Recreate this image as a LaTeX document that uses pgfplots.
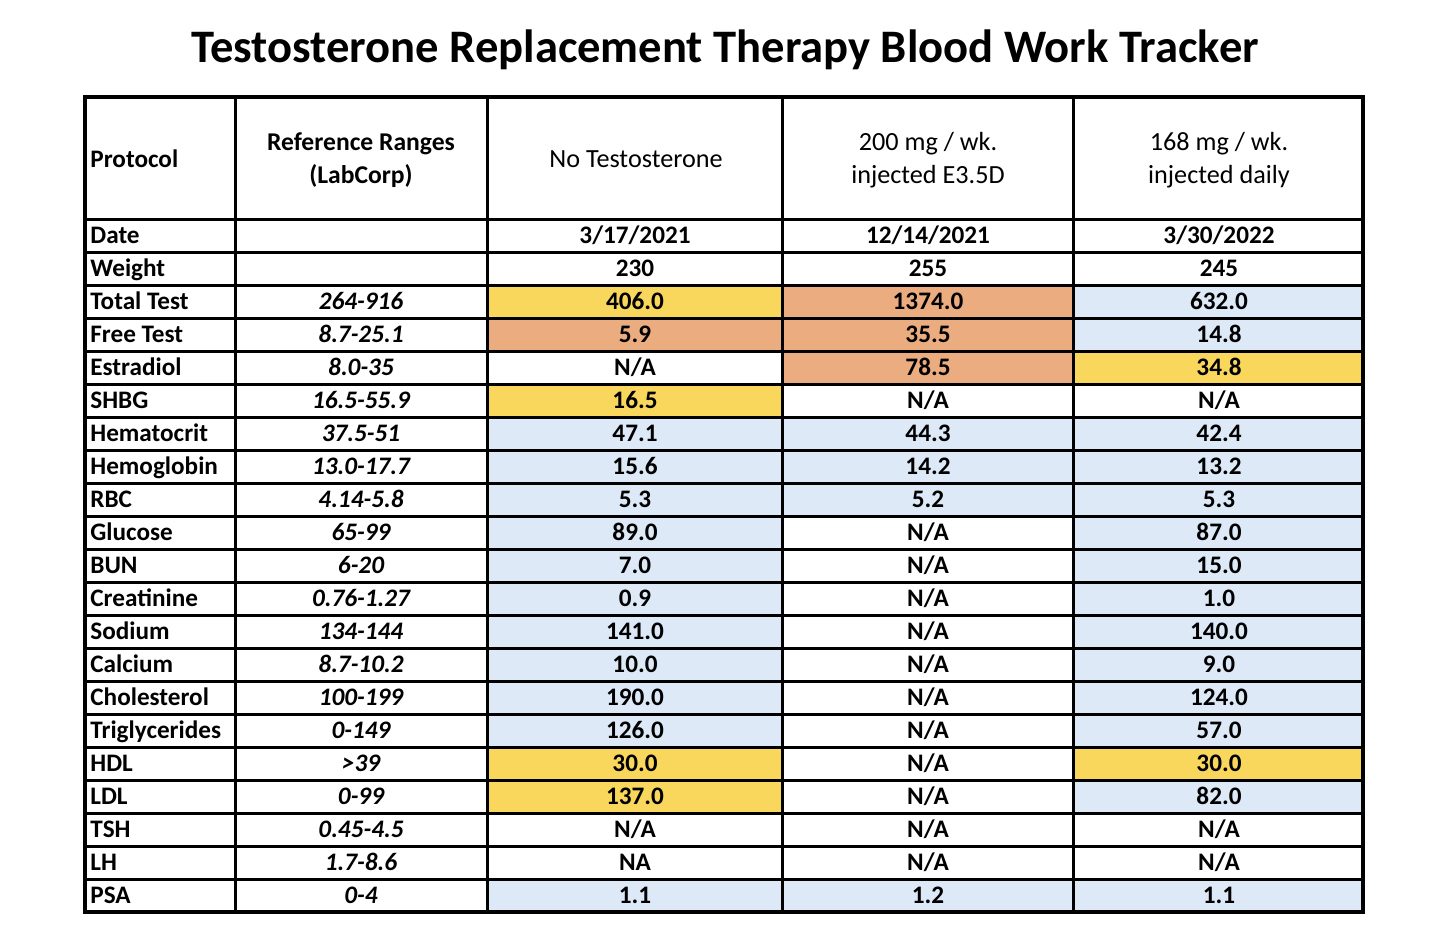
\documentclass[border=0pt]{standalone}
\usepackage{pgfplots}
\pgfplotsset{compat=1.18}
\usepackage{pgfplotstable}
\usepackage{fontspec}
\setmainfont{Carlito}
\definecolor{cyel}{HTML}{F9D65C}
\definecolor{corg}{HTML}{EBAC7F}
\definecolor{cblu}{HTML}{DDE9F7}

\pgfplotstableread[col sep=comma]{
r,name
0,Date
1,Weight
2,Total Test
3,Free Test
4,Estradiol
5,SHBG
6,Hematocrit
7,Hemoglobin
8,RBC
9,Glucose
10,BUN
11,Creatinine
12,Sodium
13,Calcium
14,Cholesterol
15,Triglycerides
16,HDL
17,LDL
18,TSH
19,LH
20,PSA
}\names

\pgfplotstableread[col sep=comma]{
r,range
2,264-916
3,8.7-25.1
4,8.0-35
5,16.5-55.9
6,37.5-51
7,13.0-17.7
8,4.14-5.8
9,65-99
10,6-20
11,0.76-1.27
12,134-144
13,8.7-10.2
14,100-199
15,0-149
16,>39
17,0-99
18,0.45-4.5
19,1.7-8.6
20,0-4
}\ranges

\pgfplotstableread[col sep=comma]{
r,a,b,c
0,3/17/2021,12/14/2021,3/30/2022
1,230,255,245
2,406.0,1374.0,632.0
3,5.9,35.5,14.8
4,N/A,78.5,34.8
5,16.5,N/A,N/A
6,47.1,44.3,42.4
7,15.6,14.2,13.2
8,5.3,5.2,5.3
9,89.0,N/A,87.0
10,7.0,N/A,15.0
11,0.9,N/A,1.0
12,141.0,N/A,140.0
13,10.0,N/A,9.0
14,190.0,N/A,124.0
15,126.0,N/A,57.0
16,30.0,N/A,30.0
17,137.0,N/A,82.0
18,N/A,N/A,N/A
19,NA,N/A,N/A
20,1.1,1.2,1.1
}\vals

\begin{document}
\begin{tikzpicture}
\begin{axis}[
  scale only axis, width=719pt, height=474.5pt,
  xmin=0, xmax=1438, ymin=0, ymax=949, y dir=reverse,
  hide axis, clip=false,
  txt/.style={draw=none, mark=none, nodes near coords, point meta=explicit symbolic,
    every node near coord/.append style={anchor=base, inner sep=0pt, text=black, font=\fontsize{12.6}{14}\selectfont\bfseries}},
]
% cell fills
\addplot[fill=cblu, draw=none] coordinates {(487,417)(1363,417)(1363,516)(487,516)} -- cycle;
\addplot[fill=cblu, draw=none] coordinates {(487,879)(1363,879)(1363,912)(487,912)} -- cycle;
\addplot[fill=cblu, draw=none] coordinates {(487,516)(782,516)(782,747)(487,747)} -- cycle;
\addplot[fill=cblu, draw=none] coordinates {(1073,516)(1363,516)(1363,747)(1073,747)} -- cycle;
\addplot[fill=cblu, draw=none] coordinates {(1073,285)(1363,285)(1363,351)(1073,351)} -- cycle;
\addplot[fill=cblu, draw=none] coordinates {(1073,780)(1363,780)(1363,813)(1073,813)} -- cycle;
\addplot[fill=cyel, draw=none] coordinates {(487,285)(782,285)(782,318)(487,318)} -- cycle;
\addplot[fill=cyel, draw=none] coordinates {(487,384)(782,384)(782,417)(487,417)} -- cycle;
\addplot[fill=cyel, draw=none] coordinates {(1073,351)(1363,351)(1363,384)(1073,384)} -- cycle;
\addplot[fill=cyel, draw=none] coordinates {(487,747)(782,747)(782,813)(487,813)} -- cycle;
\addplot[fill=cyel, draw=none] coordinates {(1073,747)(1363,747)(1363,780)(1073,780)} -- cycle;
\addplot[fill=corg, draw=none] coordinates {(487,318)(782,318)(782,351)(487,351)} -- cycle;
\addplot[fill=corg, draw=none] coordinates {(782,285)(1073,285)(1073,384)(782,384)} -- cycle;

% grid lines
\pgfplotsinvokeforeach{219,252,285,318,351,384,417,450,483,516,549,582,615,648,681,714,747,780,813,846,879}{
  \draw[line width=1.5pt] (axis cs:85,#1) -- (axis cs:1363,#1);
}
\pgfplotsinvokeforeach{235,487,782,1073}{
  \draw[line width=1.5pt] (axis cs:#1,97) -- (axis cs:#1,912);
}
\draw[line width=2pt] (axis cs:85,97) rectangle (axis cs:1363,912);

% texts
\addplot[txt, every node near coord/.append style={anchor=base west}] table[x expr=90, y expr=243.5+33*\thisrow{r}, meta=name] {\names};
\addplot[txt, every node near coord/.append style={font=\fontsize{12.6}{14}\selectfont\bfseries\itshape}] table[x expr=361, y expr=243.5+33*\thisrow{r}, meta=range] {\ranges};
\addplot[txt] table[x expr=635, y expr=243.5+33*\thisrow{r}, meta=a] {\vals};
\addplot[txt] table[x expr=928, y expr=243.5+33*\thisrow{r}, meta=b] {\vals};
\addplot[txt] table[x expr=1219, y expr=243.5+33*\thisrow{r}, meta=c] {\vals};

% header
\node[anchor=base west, inner sep=0pt, font=\fontsize{12.6}{14}\selectfont\bfseries] at (axis cs:90,167) {Protocol};
\node[anchor=base, inner sep=0pt, font=\fontsize{12.8}{14}\selectfont\bfseries] at (axis cs:361,150) {Reference Ranges};
\node[anchor=base, inner sep=0pt, font=\fontsize{12.8}{14}\selectfont\bfseries] at (axis cs:361,183) {(LabCorp)};
\node[anchor=base, inner sep=0pt, font=\fontsize{13.1}{14}\selectfont] at (axis cs:636,167) {No Testosterone};
\node[anchor=base, inner sep=0pt, font=\fontsize{13.1}{14}\selectfont] at (axis cs:928,150) {200 mg / wk.};
\node[anchor=base, inner sep=0pt, font=\fontsize{13.1}{14}\selectfont] at (axis cs:928,183) {injected E3.5D};
\node[anchor=base, inner sep=0pt, font=\fontsize{13.1}{14}\selectfont] at (axis cs:1219,150) {168 mg / wk.};
\node[anchor=base, inner sep=0pt, font=\fontsize{13.1}{14}\selectfont] at (axis cs:1219,183) {injected daily};

% title
\node[anchor=base, inner sep=0pt, font=\fontsize{23.3}{28}\selectfont\bfseries] at (axis cs:725,62) {Testosterone Replacement Therapy Blood Work Tracker};

\path (axis cs:0,0) rectangle (axis cs:1438,949);
\end{axis}
\end{tikzpicture}
\end{document}
